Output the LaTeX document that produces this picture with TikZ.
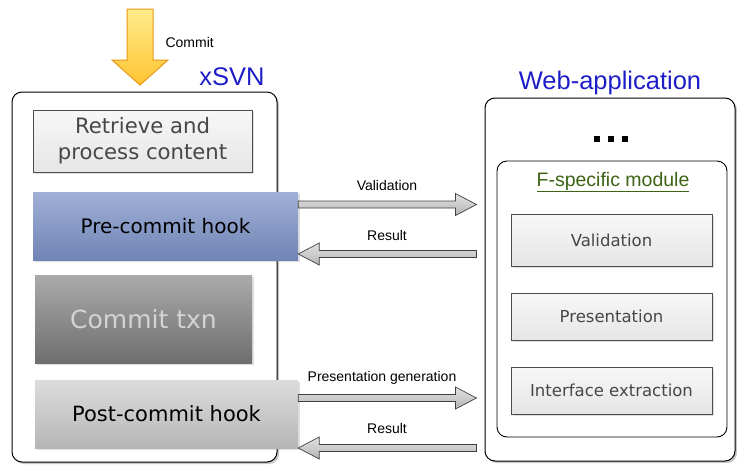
\documentclass[tikz,border=0pt]{standalone}
\usepackage{fontspec}
\setmainfont{DejaVu Sans}
\newfontfamily\arialf{Liberation Sans}
\usetikzlibrary{calc,shadows}
\definecolor{svnblue}{RGB}{30,30,200}
\definecolor{modgreen}{RGB}{60,100,20}
\definecolor{preTop}{RGB}{160,176,214}
\definecolor{preBot}{RGB}{112,132,182}
\definecolor{txnTop}{RGB}{170,170,170}
\definecolor{txnBot}{RGB}{110,110,110}
\definecolor{postTop}{RGB}{220,220,220}
\definecolor{postBot}{RGB}{182,182,182}
\definecolor{yelTop}{RGB}{255,236,140}
\definecolor{yelBot}{RGB}{255,196,50}
\definecolor{yelLine}{RGB}{235,150,20}
\newcommand{\rhollow}[2]{%
  \path[hollow] let \p1=(#1), \p2=(#2) in
    (\x1,\y1+3.5pt) -- (\x2-21pt,\y1+3.5pt) -- (\x2-21pt,\y1+11pt) -- (\x2,\y1)
    -- (\x2-21pt,\y1-11pt) -- (\x2-21pt,\y1-3.5pt) -- (\x1,\y1-3.5pt) -- cycle;}
\newcommand{\lhollow}[2]{%
  \path[hollow] let \p1=(#1), \p2=(#2) in
    (\x1,\y1+3.5pt) -- (\x2+21pt,\y1+3.5pt) -- (\x2+21pt,\y1+11pt) -- (\x2,\y1)
    -- (\x2+21pt,\y1-11pt) -- (\x2+21pt,\y1-3.5pt) -- (\x1,\y1-3.5pt) -- cycle;}
\begin{document}
\begin{tikzpicture}[x=1pt,y=-1pt,
  outer/.style={draw=black, line width=1pt, fill=white, rounded corners=10pt,
    drop shadow={shadow xshift=2pt, shadow yshift=-2pt, opacity=0.45}},
  inner/.style={draw=black, line width=0.9pt, fill=white, rounded corners=10pt},
  lightbox/.style={draw=black!70, line width=0.7pt, top color=white!97!black,
    bottom color=white!90!black, text=black!72,
    drop shadow={shadow xshift=1.5pt, shadow yshift=-1.5pt, opacity=0.25}},
  flatbox/.style={drop shadow={shadow xshift=1.5pt, shadow yshift=-1.5pt, opacity=0.25}},
  hollow/.style={draw=black!75, line width=0.7pt, top color=white!88!black,
    bottom color=white!70!black, middle color=white!80!black, line join=miter},
  lbl/.style={font=\arialf\fontsize{14}{16}\selectfont, text=black},
  title/.style={font=\arialf\fontsize{25.5}{28}\selectfont, text=svnblue}]
\useasboundingbox (0,0) rectangle (737,464);
% outer containers
\node[outer, minimum width=265pt, minimum height=370pt] (svn) at (144.5,277) {};
\node[outer, minimum width=250pt, minimum height=363pt] (web) at (610,279.5) {};
\node[inner, minimum width=230pt, minimum height=276pt] (mod) at (612,299) {};
% titles
\node[title] (svnt) at (232,77) {xSVN};
\node[title] (webt) at (610,83) {Web-application};
% commit arrow
\path[draw=yelLine, line width=1pt, top color=yelTop, bottom color=yelBot, line join=miter]
  (127,9) -- (153,9) -- (153,60) -- (168,60) -- (140,85) -- (112,60) -- (127,60) -- cycle;
\node[lbl, anchor=west] (commit) at (162,42) {Commit};
% left boxes
\node[lightbox, minimum width=219pt, minimum height=62pt, align=center,
  font=\fontsize{21.2}{26}\selectfont] (ret) at (142.5,141) {Retrieve and\\process content};
\node[flatbox, top color=preTop, bottom color=preBot, minimum width=265pt, minimum height=68pt,
  font=\fontsize{20}{23}\selectfont] (pre) at (165.5,226) {Pre-commit hook};
\node[flatbox, top color=txnTop, bottom color=txnBot, minimum width=217pt, minimum height=88pt,
  text=black!17, font=\fontsize{25}{28}\selectfont] (txn) at (143.5,319) {Commit txn};
\node[flatbox, top color=postTop, bottom color=postBot, minimum width=263pt, minimum height=68pt,
  font=\fontsize{21}{24}\selectfont] (post) at (166.5,414) {Post-commit hook};
% right side
\foreach \i in {597,611,625} \fill (\i-3.3,135.7) rectangle (\i+3.3,142.3);
\node[font=\arialf\fontsize{19.5}{22}\selectfont, text=modgreen] (modt) at (613,182) {\underline{F-specific module}};
\node[lightbox, minimum width=201pt, minimum height=52pt, font=\fontsize{16.5}{19}\selectfont] (val) at (611.5,240) {Validation};
\node[lightbox, minimum width=201pt, minimum height=47pt, font=\fontsize{16.5}{19}\selectfont] (pres) at (611.5,316.5) {Presentation};
\node[lightbox, minimum width=201pt, minimum height=47pt, font=\fontsize{16.5}{19}\selectfont] (ie) at (611.5,390.5) {Interface extraction};
% connectors
\coordinate (ya) at (0,204.5);
\coordinate (yb) at (0,254);
\coordinate (yc) at (0,398);
\coordinate (yd) at (0,448);
\coordinate (a1) at (pre.east |- ya);
\coordinate (a2) at ($(web.west |- ya)+(-8,0)$);
\coordinate (b1) at ($(web.west |- yb)+(-8,0)$);
\coordinate (b2) at (pre.east |- yb);
\coordinate (c1) at (post.east |- yc);
\coordinate (c2) at ($(web.west |- yc)+(-8,0)$);
\coordinate (d1) at ($(web.west |- yd)+(-8,0)$);
\coordinate (d2) at (post.east |- yd);
\rhollow{a1}{a2}
\lhollow{b1}{b2}
\rhollow{c1}{c2}
\lhollow{d1}{d2}
\node[lbl] (la) at (387,185) {Validation};
\node[lbl] (lb) at (387,235) {Result};
\node[lbl] (lc) at (382,378) {Presentation generation};
\node[lbl] (ld) at (387,428) {Result};
\end{tikzpicture}
\end{document}
